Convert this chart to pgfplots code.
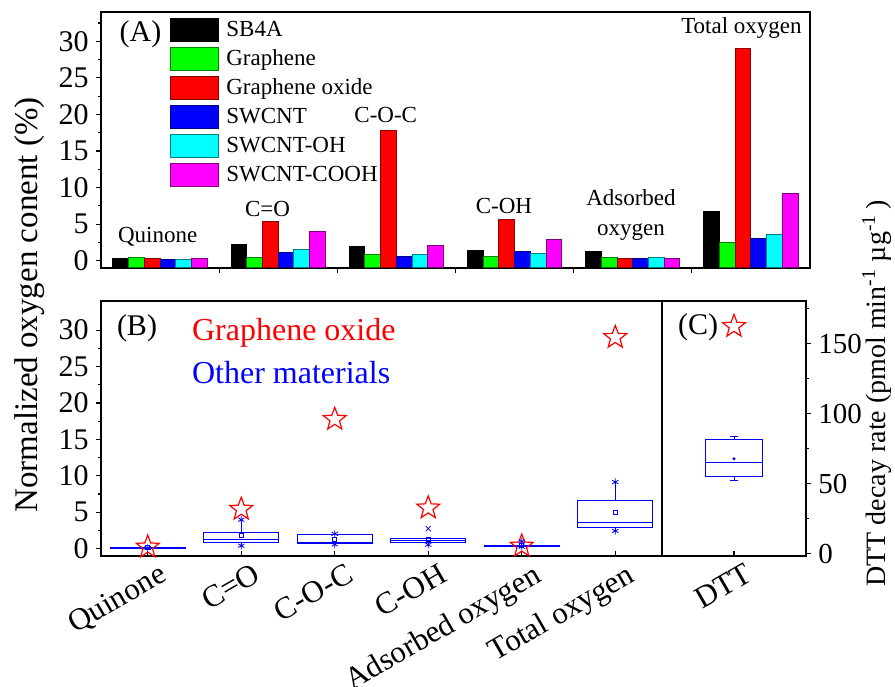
\documentclass[border=0pt]{standalone}
\usepackage{fontspec}
\setmainfont{Liberation Serif}
\usepackage{pgfplots}
\pgfplotsset{compat=1.18}
\usepgfplotslibrary{statistics}

\definecolor{gph}{RGB}{0,255,0}
\definecolor{gox}{RGB}{255,0,0}
\definecolor{swc}{RGB}{0,0,255}
\definecolor{swoh}{RGB}{0,255,255}
\definecolor{swcooh}{RGB}{255,0,255}

% open five-pointed star
\pgfdeclareplotmark{ostar}{%
  \pgfpathmoveto{\pgfpointpolar{90}{\pgfplotmarksize}}%
  \pgfpathlineto{\pgfpointpolar{126}{0.42\pgfplotmarksize}}%
  \pgfpathlineto{\pgfpointpolar{162}{\pgfplotmarksize}}%
  \pgfpathlineto{\pgfpointpolar{198}{0.42\pgfplotmarksize}}%
  \pgfpathlineto{\pgfpointpolar{234}{\pgfplotmarksize}}%
  \pgfpathlineto{\pgfpointpolar{270}{0.42\pgfplotmarksize}}%
  \pgfpathlineto{\pgfpointpolar{306}{\pgfplotmarksize}}%
  \pgfpathlineto{\pgfpointpolar{342}{0.42\pgfplotmarksize}}%
  \pgfpathlineto{\pgfpointpolar{18}{\pgfplotmarksize}}%
  \pgfpathlineto{\pgfpointpolar{54}{0.42\pgfplotmarksize}}%
  \pgfpathclose\pgfusepathqstroke}

\begin{document}
\begin{tikzpicture}

\pgfplotsset{
  every axis/.append style={
    scale only axis, enlargelimits=false,
    axis line style={line width=0.75pt},
    tick style={line width=0.6pt, black},
    major tick length=2.6pt, minor tick length=1.5pt,
    xtick align=inside, ytick align=outside,
    xtick pos=left,
    tick label style={font=\fontsize{15}{16}\selectfont},
    /pgf/number format/assume math mode=true,
    boxplot/draw direction=y,
  },
  barleg/.style={legend image code/.code={
      \draw[##1] (0pt,-5.75pt) rectangle (24pt,5.75pt);}},
  rotlab/.style={xticklabel style={rotate=30, anchor=north east,
      inner sep=0pt, xshift=3pt, yshift=-5pt,
      font=\fontsize{15.5}{16}\selectfont}},
}

% ---------------- (A) bars, drawn from the bottom of the axis ----------
\begin{axis}[
  name=A, at={(50.5pt,209pt)}, anchor=south west,
  width=354.5pt, height=128pt,
  xmin=0.5, xmax=6.5, ymin=0, ymax=35,
  y filter/.expression={y+1},
  ybar=0pt, bar width=0.133,
  xtick={1.5,2.5,3.5,4.5,5.5}, xticklabels={},
  ytick={1,6,11,16,21,26,31}, yticklabels={0,5,10,15,20,25,30},
  minor ytick={3.5,8.5,13.5,18.5,23.5,28.5,33.5},
  ytick pos=left,
  legend cell align=left,
  legend style={draw=none, fill=none, at={(rel axis cs:0.0973,0.978)},
    anchor=north west, inner sep=0pt, row sep=2.5pt, column sep=3.5pt,
    font=\fontsize{11.5}{12}\selectfont, nodes={inner sep=0pt}},
]
\addplot[fill=black, draw=black, line width=0.5pt, barleg] coordinates {
  (1,0.23) (2,2.28) (3,2.0) (4,1.46) (5,1.23) (6,6.79)};
\addlegendentry{SB4A}
\addplot[fill=gph, draw=gph!50!black, line width=0.5pt, barleg] coordinates {
  (1,0.5) (2,0.45) (3,0.91) (4,0.59) (5,0.5) (6,2.5)};
\addlegendentry{Graphene}
\addplot[fill=gox, draw=gox!55!black, line width=0.5pt, barleg] coordinates {
  (1,0.23) (2,5.42) (3,17.76) (4,5.6) (5,0.36) (6,29.0)};
\addlegendentry{Graphene oxide}
\addplot[fill=swc, draw=swc!50!black, line width=0.5pt, barleg] coordinates {
  (1,0.1) (2,1.09) (3,0.59) (4,1.27) (5,0.27) (6,3.0)};
\addlegendentry{SWCNT}
\addplot[fill=swoh, draw=swoh!50!black, line width=0.5pt, barleg] coordinates {
  (1,0.1) (2,1.5) (3,0.87) (4,1.05) (5,0.5) (6,3.64)};
\addlegendentry{SWCNT-OH}
\addplot[fill=swcooh, draw=swcooh!50!black, line width=0.5pt, barleg] coordinates {
  (1,0.23) (2,4.05) (3,2.14) (4,2.83) (5,0.36) (6,9.25)};
\addlegendentry{SWCNT-COOH}

\node[font=\fontsize{15}{16}\selectfont] at (axis cs:0.834,31.9) {(A)};
\begin{scope}[every node/.style={font=\fontsize{11.5}{15}\selectfont}]
\node at (axis cs:0.98,4.24) {Quinone};
\node at (axis cs:1.91,8.07) {C=O};
\node at (axis cs:2.91,20.9) {C-O-C};
\node at (axis cs:3.91,8.48) {C-OH};
\node[align=center] at (axis cs:4.985,7.25) {Adsorbed\\oxygen};
\node at (axis cs:5.92,32.8) {Total oxygen};
\end{scope}
\end{axis}

% ---------------- (B) other materials vs graphene oxide ---------------
\begin{axis}[
  name=B, at={(50.5pt,65pt)}, anchor=south west,
  width=280.5pt, height=127.5pt,
  xmin=0.5, xmax=6.5, ymin=-1, ymax=34, clip=false,
  xtick={1,2,3,4,5,6},
  xticklabels={Quinone,{C=O},C-O-C,C-OH,Adsorbed oxygen,Total oxygen},
  rotlab,
  ytick={0,5,10,15,20,25,30}, minor y tick num=1,
  ytick pos=left,
  boxplot/box extend=0.8, boxplot/whisker extend=0,
  boxplot/every average/.style={/tikz/mark=square, /tikz/mark size=1pt},
]
\addplot[only marks, mark=ostar, mark size=6pt, draw=red,
  mark options={line width=0.6pt}] coordinates {
  (1,0.23) (2,5.42) (3,17.76) (4,5.6) (5,0.36) (6,29.0)};

\addplot[swc, line width=0.5pt, boxplot prepared={draw position=1,
  lower whisker=0.05, lower quartile=0.07, median=0.1,
  upper quartile=0.13, upper whisker=0.2, average=0.12}] coordinates {};
\addplot[swc, line width=0.5pt, boxplot prepared={draw position=2,
  lower whisker=0.41, lower quartile=0.91, median=1.32,
  upper quartile=2.2, upper whisker=3.98, average=1.79}] coordinates {};
\addplot[swc, line width=0.5pt, boxplot prepared={draw position=3,
  lower whisker=0.59, lower quartile=0.72, median=0.8,
  upper quartile=1.96, upper whisker=2.04, average=1.28}] coordinates {};
\addplot[swc, line width=0.5pt, boxplot prepared={draw position=4,
  lower whisker=0.55, lower quartile=0.85, median=1.1,
  upper quartile=1.35, upper whisker=1.45, average=1.32}] coordinates {};
\addplot[swc, line width=0.5pt, boxplot prepared={draw position=5,
  lower whisker=0.27, lower quartile=0.33, median=0.36,
  upper quartile=0.45, upper whisker=1.0, average=0.5}] coordinates {};
\addplot[swc, line width=0.5pt, boxplot prepared={draw position=6,
  lower whisker=2.44, lower quartile=2.85, median=3.53,
  upper quartile=6.64, upper whisker=9.15, average=4.96}] coordinates {};

\addplot[only marks, swc, mark=asterisk, mark size=1.8pt] coordinates {
  (1,0.1) (2,3.98) (2,0.41) (3,2.04) (3,0.59) (4,0.55)
  (5,1.0) (5,0.27) (6,9.15) (6,2.44)};
\addplot[only marks, swc, mark=x, mark size=1.8pt] coordinates {(4,2.75)};

\node[font=\fontsize{15}{16}\selectfont] at (axis cs:0.885,30.3) {(B)};
\node[red, anchor=west, inner sep=0pt, font=\fontsize{16}{18}\selectfont]
  at (axis cs:1.47,29.6) {Graphene oxide};
\node[blue, anchor=west, inner sep=0pt, font=\fontsize{16}{18}\selectfont]
  at (axis cs:1.47,24.2) {Other materials};
\end{axis}

% ---------------- (C) DTT decay rate ---------------------------------
\begin{axis}[
  name=C, at={(331pt,65pt)}, anchor=south west,
  width=72pt, height=127.5pt,
  xmin=0.5, xmax=1.5, ymin=-1.5, ymax=180.5, clip=false,
  xtick={1}, xticklabels={DTT},
  rotlab,
  ytick={0,50,100,150}, minor ytick={25,75,125,175},
  ytick pos=right, yticklabel pos=right,
  yticklabel style={font=\fontsize{14.5}{16}\selectfont},
  boxplot/box extend=0.4, boxplot/whisker extend=0.05,
  boxplot/every average/.style={/tikz/mark=*, /tikz/mark size=0.5pt},
]
\addplot[only marks, mark=ostar, mark size=6pt, draw=red,
  mark options={line width=0.6pt}] coordinates {(1,162.4)};
\addplot[swc, line width=0.5pt, boxplot prepared={draw position=1,
  lower whisker=52.4, lower quartile=55.2, median=65.5,
  upper quartile=81.9, upper whisker=83.8, average=67.9}] coordinates {};
\node[font=\fontsize{15}{16}\selectfont] at (axis cs:0.75,162) {(C)};
\end{axis}

\node[rotate=90, font=\fontsize{16.5}{18}\selectfont] at (15pt,190.5pt)
  {Normalized oxygen conent (\%)};
\node[rotate=90, font=\fontsize{14}{16}\selectfont] at (438.5pt,146.25pt)
  {DTT decay rate (pmol min\textsuperscript{-1} µg\textsuperscript{-1}\,)};

\pgfresetboundingbox
\path[use as bounding box] (0,0) rectangle (447.5pt,343pt);
\end{tikzpicture}
\end{document}
